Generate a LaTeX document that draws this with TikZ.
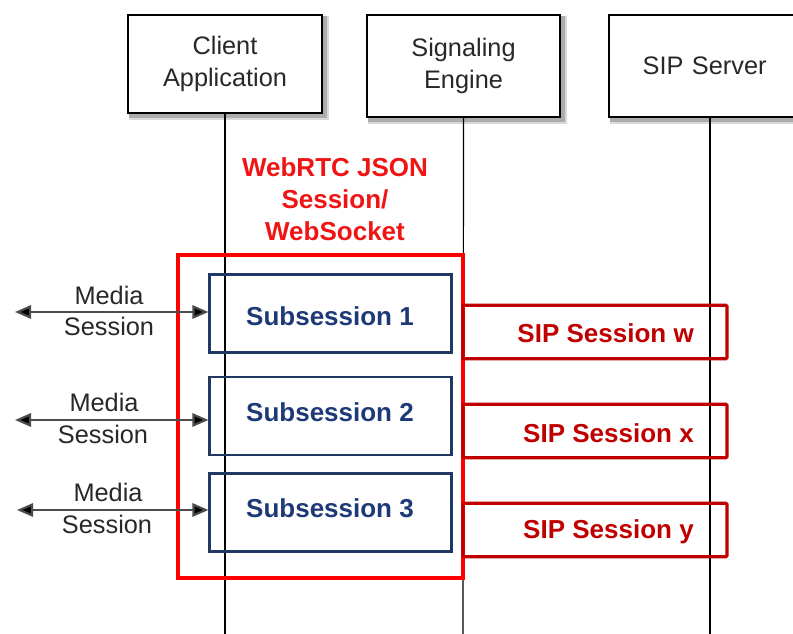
\documentclass[tikz,border=0pt]{standalone}
\usepackage{fontspec}
\setmainfont{Liberation Sans}
\usetikzlibrary{arrows.meta,backgrounds}
\definecolor{navyc}{RGB}{31,56,100}
\definecolor{navytext}{RGB}{30,58,118}
\definecolor{sipred}{RGB}{192,0,0}
\definecolor{brightred}{RGB}{255,0,0}
\definecolor{labred}{RGB}{240,20,20}
\definecolor{darktext}{RGB}{40,40,40}
\begin{document}
\begin{tikzpicture}[x=0.75pt,y=-0.75pt,
  actor/.style={draw=black,line width=1pt,fill=white,align=center,text=darktext,
    font=\fontsize{19}{23.5}\selectfont,inner sep=0pt},
  life/.style={draw=black,line width=0.9pt},
  bigbox/.style={draw=brightred,line width=3pt,inner sep=0pt},
  subbox/.style={draw=navyc,line width=1.6pt,inner sep=0pt,minimum width=181.5pt,minimum height=58.5pt},
  subtext/.style={text=navytext,font=\bfseries\fontsize{19.5}{23}\selectfont,inner sep=0pt},
  sipbox/.style={draw=sipred,line width=2.4pt,inner sep=0pt,minimum width=198pt,minimum height=40pt,rounded corners=0.8pt},
  siptext/.style={text=sipred,font=\bfseries\fontsize{19.5}{23}\selectfont,inner sep=0pt,anchor=east},
  medtext/.style={text=darktext,font=\fontsize{19}{23}\selectfont,inner sep=0pt},
  medarrow/.style={draw=black!70,line width=1.6pt,{Triangle[length=12pt,width=10pt,fill=black]}-{Triangle[length=12pt,width=10pt,fill=black]}}
]
\useasboundingbox (0,0) rectangle (793,634);
\clip (0,0) rectangle (793,634);

% actors
\node[actor,minimum width=145.5pt,minimum height=73.5pt] (client) at (225,64) {Client\\Application};
\node[actor,minimum width=144.75pt,minimum height=76.5pt] (engine) at (463.5,66) {Signaling\\Engine};
\node[actor,minimum width=151.5pt,minimum height=76.5pt,text width=144pt] (server) at (710,66) {\hspace*{-8pt}SIP Server};

% lifeline ends
\coordinate (cend) at (225,640);
\coordinate (eend) at (463,640);
\coordinate (send) at (710,640);
\draw[life] (client.south) -- (cend);
\draw[life] (engine.south) -- (eend);
\draw[life] (server.south) -- (send);

% WebRTC label
\node[text=labred,font=\bfseries\fontsize{19.5}{24}\selectfont,align=center,inner sep=0pt] (wlabel) at (335,199) {WebRTC JSON\\Session/\\WebSocket};

% big red box
\node[bigbox,minimum width=213.75pt,minimum height=242.25pt] (rbox) at (320.5,416.5) {};

% subsessions
\node[subbox] (sub1) at (330.5,313.5) {};
\node[subbox] (sub2) at (330.5,416) {};
\node[subbox] (sub3) at (330.5,512.5) {};
\node[subtext] (t1) at (330,316) {Subsession 1};
\node[subtext] (t2) at (330,412) {Subsession 2};
\node[subtext] (t3) at (330,508) {Subsession 3};

% SIP sessions
\node[sipbox] (sip1) at (595,332) {};
\node[sipbox] (sip2) at (595,431) {};
\node[sipbox] (sip3) at (595,530) {};
\node[siptext] (s1) at (694,333) {SIP Session w};
\node[siptext] (s2) at (694,433) {SIP Session x};
\node[siptext] (s3) at (694,532) {SIP Session y};

% media sessions
\coordinate (m1) at (15,312);
\coordinate (m2) at (15,420);
\coordinate (m3) at (17,510);
\draw[medarrow] (m1) -- (m1 -| sub1.west);
\draw[medarrow] (m2) -- (m2 -| sub2.west);
\draw[medarrow] (m3) -- (m3 -| sub3.west);
\node[medtext] (ma1) at (109,295) {Media};
\node[medtext] (mb1) at (109,326) {Session};
\node[medtext] (ma2) at (104,402) {Media};
\node[medtext] (mb2) at (103,434) {Session};
\node[medtext] (ma3) at (108,492) {Media};
\node[medtext] (mb3) at (107,524) {Session};

% background and shadows
\begin{scope}[on background layer]
\fill[white] (0,0) rectangle (793,634);
\foreach \n in {client,engine,server}{
  \fill[gray!30] ([xshift=1.5pt,yshift=-5pt]\n.south west) rectangle ([xshift=5pt,yshift=-1.5pt]\n.north east);
  \fill[gray!65] ([xshift=1pt,yshift=-3.5pt]\n.south west) rectangle ([xshift=3.5pt,yshift=-1pt]\n.north east);
}
\end{scope}
\end{tikzpicture}
\end{document}
